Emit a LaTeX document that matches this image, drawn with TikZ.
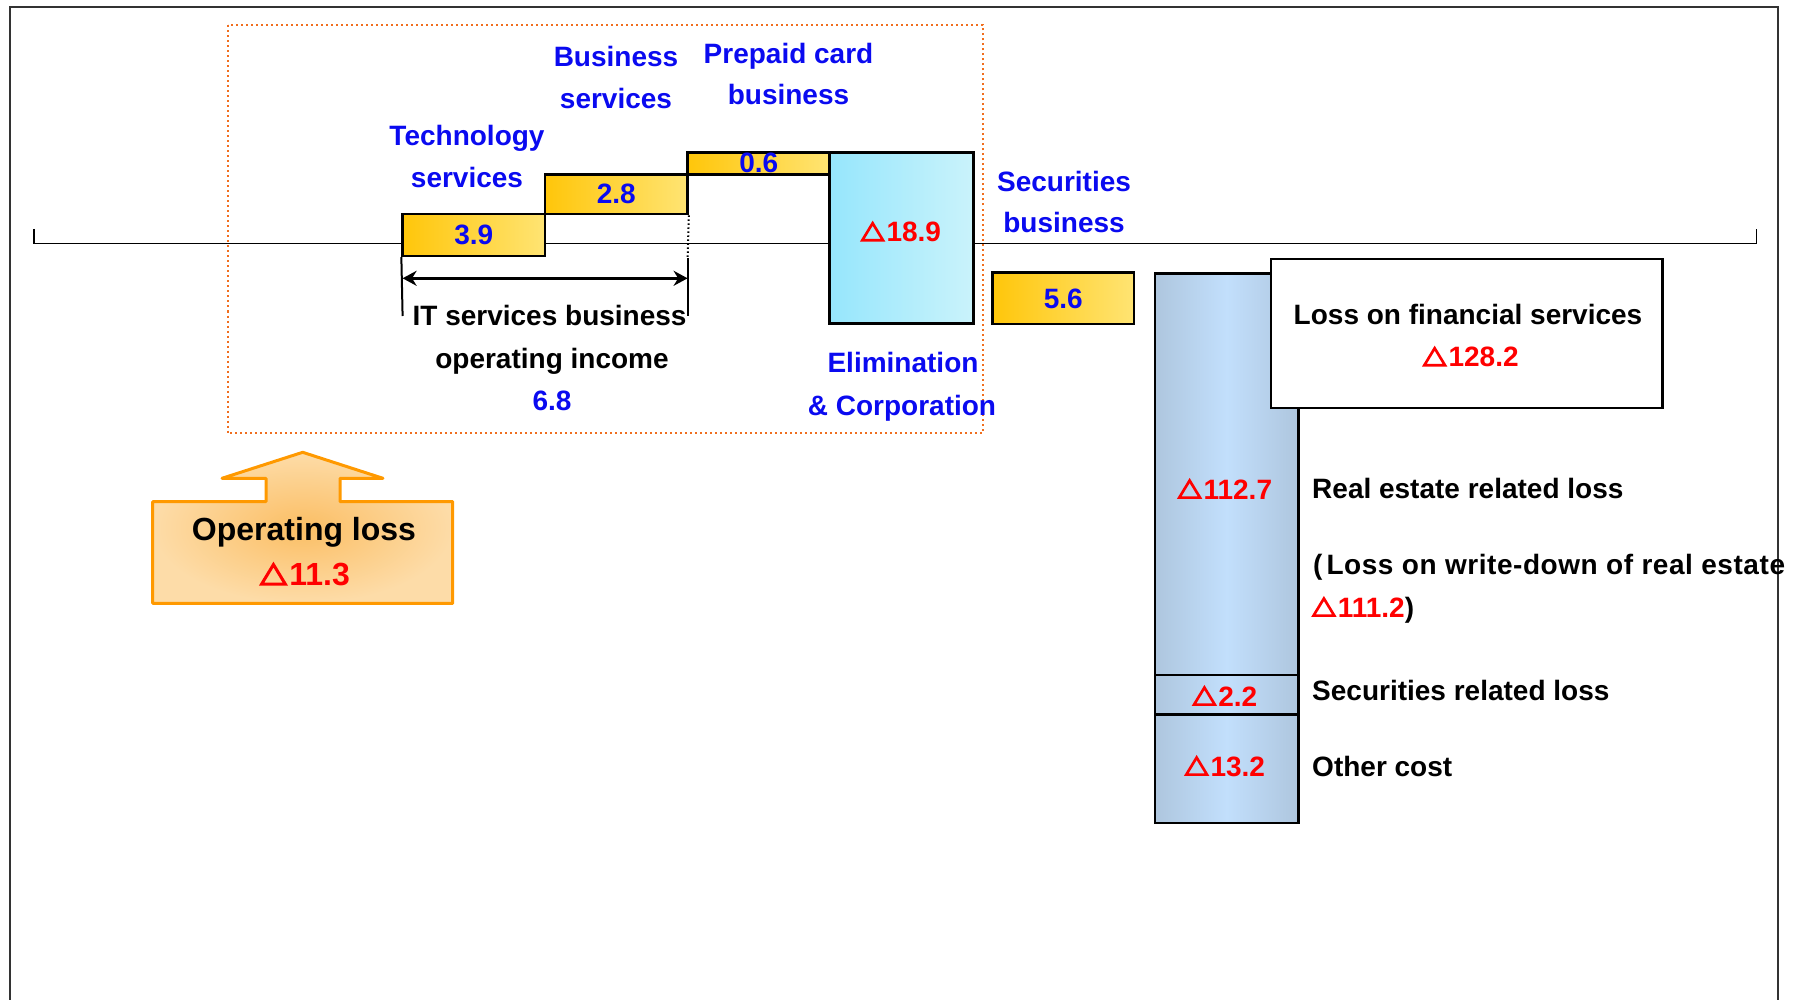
\documentclass[tikz,border=0pt]{standalone}
\usepackage{fontspec}
\setmainfont{Liberation Sans}
\usetikzlibrary{arrows.meta}

% palette
\definecolor{txtblue}{RGB}{10,10,240}
\definecolor{lossred}{RGB}{255,0,0}
\definecolor{frameorange}{RGB}{240,110,30}
\definecolor{arroworange}{RGB}{255,153,0}
\definecolor{barYa}{RGB}{255,198,10}
\definecolor{barYb}{RGB}{255,228,115}
\definecolor{cyanL}{RGB}{150,230,252}
\definecolor{cyanR}{RGB}{202,243,251}
\definecolor{steelE}{RGB}{174,198,222}
\definecolor{steelM}{RGB}{194,223,252}
\definecolor{orgIn}{RGB}{251,190,100}
\definecolor{orgOut}{RGB}{253,220,168}

% open red triangle used as the minus sign, sized to the current font
\newcommand\deltamark{\tikz[x=1em,y=1em,baseline=0pt]
  \draw[lossred, line width=0.095em, line join=miter]
    (0.05,0.05) -- (0.79,0.05) -- (0.42,0.66) -- cycle;\hspace{0.08em}}

\tikzset{
  lbl/.style={inner sep=0pt, anchor=base, font=\bfseries\fontsize{28}{34}\selectfont},
  bluelbl/.style={lbl, text=txtblue},
  redlbl/.style={lbl, text=lossred},
  blacklbl/.style={lbl, text=black},
  leftlbl/.style={blacklbl, anchor=base west},
  ybar/.style={draw=black, line width=2.5pt, left color=barYa, right color=barYb,
    inner sep=0pt, text=txtblue, font=\bfseries\fontsize{28}{34}\selectfont},
  cbar/.style={draw=black, line width=2.5pt, left color=cyanL, right color=cyanR, inner sep=0pt},
  sbar/.style={draw=black, line width=2.5pt, left color=steelE, right color=steelE,
    middle color=steelM, inner sep=0pt},
  wbox/.style={draw=black, line width=2.5pt, fill=white, inner sep=0pt},
  guide/.style={line width=2pt, black}
}

\begin{document}
\begin{tikzpicture}[x=1pt, y=-1pt]
\useasboundingbox (0,0) rectangle (1793,1000);
\clip (0,0) rectangle (1793,1000);

% page frame (open at the bottom)
\draw[line width=1.6pt, black!80] (10,1000) -- (10,7) -- (1778,7) -- (1778,1000);

% zero axis with end ticks
\draw[line width=1.4pt] (34,229) -- (34,243.3) -- (1756.7,243.3) -- (1756.7,229);

% IT services business steps
\node[ybar, minimum width=142.4pt, minimum height=41.8pt] (tech) at (473.8,235) {3.9};
\node[ybar, minimum width=142.6pt, minimum height=39.7pt] (bizsv) at (616.3,194.2) {2.8};
\node[ybar, minimum width=142.4pt, minimum height=22pt] (prepaid) at (758.8,163.3) {0.6};
\node[cbar, minimum width=143.7pt, minimum height=171.4pt] (elim) at (901.4,238) {};
\node[redlbl] (elimv) at (901,241.7) {\deltamark 18.9};

% securities business
\node[ybar, minimum width=141.7pt, minimum height=51.3pt] (secbiz) at (1063.2,298.4) {5.6};

% financial services loss column
\node[sbar, minimum width=143.5pt, minimum height=401.7pt] (realest) at (1226.7,474.2) {};
\node[sbar, minimum width=143.5pt, minimum height=39.5pt] (secloss) at (1226.7,694.5) {};
\node[sbar, minimum width=143.5pt, minimum height=108.5pt] (other) at (1226.7,768.8) {};
\node[wbox, minimum width=391.7pt, minimum height=149pt] (finbox) at (1466.8,333.5) {};

% span of the IT services business result
\coordinate (spanL) at (402.6,278.3);
\coordinate (spanR) at (687.6,278.3);
\draw[guide] (tech.south west) -- (402.6,316);
\draw[guide, dash pattern=on 1.5pt off 2.5pt] (bizsv.south east) -- (687.6,258);
\draw[guide] (687.6,258) -- (687.6,316);
\draw[line width=3pt, {Stealth[length=14pt,width=15pt]}-{Stealth[length=14pt,width=15pt]}] (spanL) -- (spanR);

% IT services group frame
\draw[frameorange, line width=2pt, dash pattern=on 2pt off 3pt] (227.7,25.5) rectangle (982.7,433);

% operating loss arrow
\shade[inner color=orgIn, outer color=orgOut]
  (152.7,603.3) -- (152.7,501.7) -- (266,501.7) -- (266,478.3) -- (222,478.3) -- (302.7,452.3)
  -- (383,478.3) -- (340,478.3) -- (340,501.7) -- (452.7,501.7) -- (452.7,603.3) -- cycle;
\draw[arroworange, line width=3pt, line join=round]
  (152.7,603.3) -- (152.7,501.7) -- (266,501.7) -- (266,478.3) -- (222,478.3) -- (302.7,452.3)
  -- (383,478.3) -- (340,478.3) -- (340,501.7) -- (452.7,501.7) -- (452.7,603.3) -- cycle;
\node[blacklbl, font=\bfseries\fontsize{32}{38}\selectfont] (oploss) at (304,540) {Operating loss};
\node[redlbl, font=\bfseries\fontsize{32}{38}\selectfont] (oplossv) at (305,585.7) {\deltamark 11.3};

% segment titles
\node[bluelbl] (techA) at (467,146) {Technology};
\node[bluelbl] (techB) at (467,188) {services};
\node[bluelbl] (bizA) at (616,66.7) {Business};
\node[bluelbl] (bizB) at (616,108.3) {services};
\node[bluelbl] (preA) at (788.5,63.3) {Prepaid card};
\node[bluelbl] (preB) at (788.5,105) {business};
\node[bluelbl] (secA) at (1064,191.7) {Securities};
\node[bluelbl] (secB) at (1064,232.7) {business};
\node[bluelbl] (elimA) at (903,372.7) {Elimination};
\node[bluelbl] (elimB) at (902,415) {\& Corporation};

% IT services business result
\node[blacklbl] (itA) at (549.6,325) {IT services business};
\node[blacklbl] (itB) at (552,368) {operating income};
\node[bluelbl] (itC) at (552,410) {6.8};

% financial services breakdown
\node[blacklbl] (finA) at (1468,324) {Loss on financial services};
\node[redlbl] (finB) at (1470.8,366.7) {\deltamark 128.2};
\node[redlbl] (reV) at (1225,499) {\deltamark 112.7};
\node[redlbl] (secV) at (1225,706) {\deltamark 2.2};
\node[redlbl] (othV) at (1225,776) {\deltamark 13.2};
\node[leftlbl] (reL) at (1312,498) {Real estate related loss};
\node[leftlbl, font=\bfseries\fontsize{28}{34}\selectfont\addfontfeature{LetterSpace=2}]
  (wdL) at (1313,574) {(\hspace{4pt}Loss on write-down of real estate};
\node[leftlbl] (wdV) at (1312,617) {\textcolor{lossred}{\deltamark 111.2})};
\node[leftlbl] (secL) at (1312,700) {Securities related loss};
\node[leftlbl] (othL) at (1312,776) {Other cost};
\end{tikzpicture}
\end{document}
